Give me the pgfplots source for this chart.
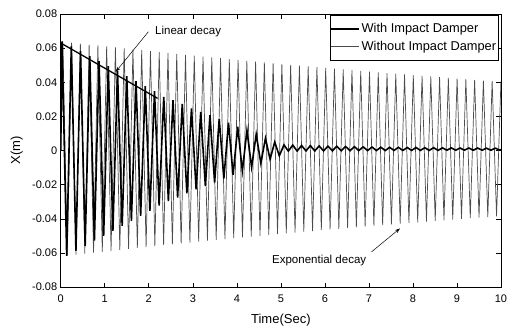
\documentclass[border=0pt]{standalone}
\usepackage{fontspec}
\setmainfont{Liberation Sans}
\usepackage{pgfplots}
\pgfplotsset{compat=1.18}
\usetikzlibrary{arrows.meta}
\begin{document}
\begin{tikzpicture}
\begin{axis}[
  scale only axis, width=440pt, height=273pt,
  anchor=south west, at={(0pt,0pt)},
  xmin=0, xmax=10, ymin=-0.08, ymax=0.08,
  scaled x ticks=false, scaled y ticks=false,
  xtick={0,1,2,3,4,5,6,7,8,9,10},
  xticklabels={0,1,2,3,4,5,6,7,8,9,10},
  ytick={-0.08,-0.06,-0.04,-0.02,0,0.02,0.04,0.06,0.08},
  yticklabels={-0.08,-0.06,-0.04,-0.02,0,0.02,0.04,0.06,0.08},
  tick align=inside, tick pos=both, major tick length=4.5pt,
  tick style={line width=0.6pt, black},
  axis line style={line width=0.9pt},
  tick label style={font=\fontsize{11}{13}\selectfont},
  xticklabel style={yshift=-4pt},
  xlabel={Time(Sec)}, ylabel={X(m)},
  every axis x label/.style={at={(axis description cs:0.5,0)}, anchor=center, yshift=-33pt, font=\fontsize{13}{15}\selectfont},
  every axis y label/.style={at={(axis description cs:-0.1,0.5)}, rotate=90, anchor=center, font=\fontsize{13}{15}\selectfont},
  reverse legend,
  legend style={at={(axis description cs:1,1)}, anchor=north east, xshift=-2.5pt, yshift=-1pt,
    draw=black, line width=0.7pt, fill=white, font=\fontsize{12.8}{15}\selectfont,
    inner xsep=0pt, inner ysep=6pt, row sep=3pt, cells={anchor=west}},
  legend image code/.code={\draw[#1] (0pt,0pt) -- (28pt,0pt);},
]
\addplot[black!70, line width=0.7pt] coordinates {
(0,0.000)
(0.048,0.0639) (0.148,-0.0616) (0.247,0.0633) (0.347,-0.0610) (0.446,0.0627) (0.546,-0.0604) (0.645,0.0621) (0.745,-0.0598) (0.844,0.0616) (0.944,-0.0593)
(1.043,0.0610) (1.143,-0.0587) (1.242,0.0604) (1.342,-0.0581) (1.441,0.0599) (1.541,-0.0576) (1.640,0.0593) (1.740,-0.0570) (1.839,0.0588) (1.939,-0.0565)
(2.038,0.0582) (2.138,-0.0560) (2.237,0.0577) (2.337,-0.0554) (2.436,0.0572) (2.536,-0.0549) (2.635,0.0566) (2.735,-0.0544) (2.834,0.0561) (2.934,-0.0539)
(3.033,0.0556) (3.133,-0.0533) (3.232,0.0551) (3.332,-0.0528) (3.431,0.0546) (3.531,-0.0523) (3.630,0.0541) (3.730,-0.0518) (3.829,0.0536) (3.929,-0.0513)
(4.028,0.0531) (4.128,-0.0508) (4.227,0.0526) (4.327,-0.0504) (4.426,0.0521) (4.526,-0.0499) (4.625,0.0516) (4.725,-0.0494) (4.824,0.0512) (4.924,-0.0489)
(5.023,0.0507) (5.123,-0.0485) (5.222,0.0502) (5.322,-0.0480) (5.421,0.0498) (5.521,-0.0475) (5.620,0.0493) (5.720,-0.0471) (5.819,0.0489) (5.919,-0.0466)
(6.018,0.0484) (6.118,-0.0462) (6.217,0.0480) (6.317,-0.0458) (6.416,0.0475) (6.516,-0.0453) (6.615,0.0471) (6.715,-0.0449) (6.814,0.0467) (6.914,-0.0445)
(7.013,0.0462) (7.113,-0.0440) (7.212,0.0458) (7.312,-0.0436) (7.411,0.0454) (7.511,-0.0432) (7.610,0.0450) (7.710,-0.0428) (7.809,0.0446) (7.909,-0.0424)
(8.008,0.0442) (8.108,-0.0420) (8.207,0.0438) (8.307,-0.0416) (8.406,0.0434) (8.506,-0.0412) (8.605,0.0430) (8.705,-0.0408) (8.804,0.0426) (8.904,-0.0404)
(9.003,0.0422) (9.103,-0.0400) (9.202,0.0418) (9.302,-0.0396) (9.401,0.0414) (9.501,-0.0392) (9.600,0.0410) (9.700,-0.0389) (9.799,0.0407) (9.899,-0.0385)
(9.998,0.0403) (10,0.0403)
};
\addlegendentry{Without Impact Damper}
\addplot[black, line width=1.6pt] coordinates {
(0,0.000)
(0.03,0.0640) (0.135,-0.0616) (0.24,0.0611) (0.345,-0.0587) (0.45,0.0582) (0.555,-0.0558) (0.66,0.0553) (0.765,-0.0528)
(0.87,0.0524) (0.975,-0.0499) (1.08,0.0494) (1.185,-0.0470) (1.29,0.0465) (1.395,-0.0441) (1.50,0.0436) (1.605,-0.0411)
(1.71,0.0406) (1.815,-0.0382) (1.92,0.0377) (2.025,-0.0353) (2.13,0.0348) (2.235,-0.0322) (2.34,0.0315) (2.445,-0.0296)
(2.55,0.0296) (2.655,-0.0275) (2.76,0.0273) (2.865,-0.0250) (2.97,0.0247) (3.075,-0.0227) (3.18,0.0227) (3.285,-0.0208)
(3.39,0.0208) (3.495,-0.0187) (3.60,0.0185) (3.705,-0.0164) (3.81,0.0163) (3.915,-0.0142) (4.02,0.0140) (4.125,-0.0119)
(4.23,0.0118) (4.335,-0.0097) (4.44,0.0095) (4.545,-0.0074) (4.65,0.0072) (4.755,-0.0051) (4.86,0.0050) (4.965,-0.0030)
(5.07,0.0033) (5.17,-0.0003) (5.27,0.0032) (5.37,-0.0003) (5.47,0.0030) (5.57,-0.0002) (5.67,0.0029) (5.77,-0.0002)
(5.87,0.0027) (5.97,-0.0002) (6.07,0.0026) (6.17,-0.0001) (6.27,0.0025) (6.37,-0.0001) (6.47,0.0024) (6.57,-0.0001)
(6.67,0.0023) (6.77,0.0000) (6.87,0.0022) (6.97,0.0000) (7.07,0.0021) (7.17,0.0000) (7.27,0.0020) (7.37,0.0000)
(7.47,0.0019) (7.57,0.0001) (7.67,0.0019) (7.77,0.0001) (7.87,0.0018) (7.97,0.0001) (8.07,0.0018) (8.17,0.0001)
(8.27,0.0017) (8.37,0.0001) (8.47,0.0017) (8.57,0.0001) (8.67,0.0016) (8.77,0.0002) (8.87,0.0016) (8.97,0.0002)
(9.07,0.0015) (9.17,0.0002) (9.27,0.0015) (9.37,0.0002) (9.47,0.0015) (9.57,0.0002) (9.67,0.0014) (9.77,0.0002)
(9.87,0.0014) (9.97,0.0003) (10,0.0005)
};
\addlegendentry{With Impact Damper}
\draw[black, line width=1.3pt] (axis cs:0,0.063) -- (axis cs:2.2,0.0306);
\node[font=\fontsize{11.5}{13}\selectfont, anchor=west, inner sep=0pt] at (axis cs:2.14,0.0695) {Linear decay};
\draw[black, line width=0.5pt, -{Stealth[length=5pt,width=3.5pt]}] (axis cs:1.99,0.0696) -- (axis cs:1.25,0.0462);
\node[font=\fontsize{11.5}{13}\selectfont, anchor=center, inner sep=0pt] at (axis cs:5.87,-0.0642) {Exponential decay};
\draw[black, line width=0.5pt, -{Stealth[length=5pt,width=3.5pt]}] (axis cs:7.06,-0.0593) -- (axis cs:7.705,-0.0456);
\end{axis}
\pgfresetboundingbox
\path[use as bounding box] (-60.7pt,-44pt) rectangle (446pt,287pt);
\end{tikzpicture}
\end{document}
